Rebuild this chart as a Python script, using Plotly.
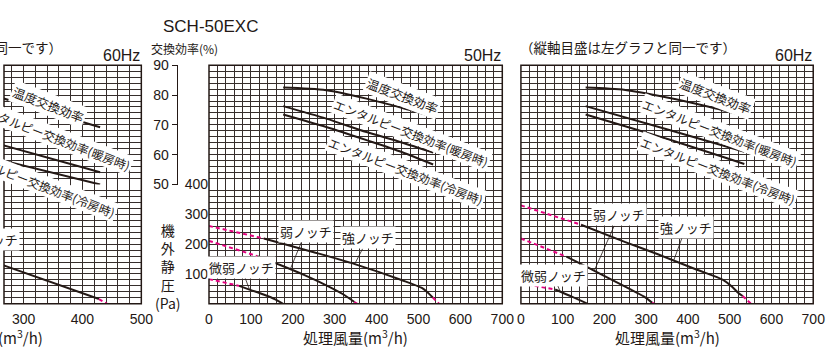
import plotly.graph_objects as go

W, H = 837, 349

# ---------------- data ----------------
# middle panel (SCH-50EXC, 50Hz)
m_temp_x = [177, 280, 376, 460, 535]
m_temp_y = [82.5, 81.6, 78.8, 75.7, 72.7]
m_heat_x = [177, 280, 376, 460, 535]
m_heat_y = [76.3, 72.1, 67.6, 64.1, 60.7]
m_cool_x = [177, 280, 376, 460, 535]
m_cool_y = [73.5, 69.3, 64.9, 60.9, 56.7]

m_strong_x = [131, 250, 348, 461, 508, 522, 534]
m_strong_y = [219, 173, 133, 79, 53, 38, 21]
m_strong_d0x = [0, 131]
m_strong_d0y = [261, 219]
m_strong_d1x = [534, 549]
m_strong_d1y = [21, 0]

m_weak_x = [115, 170, 228, 280, 320, 347]
m_weak_y = [160, 130, 96, 62, 32, 6]
m_weak_d0x = [0, 115]
m_weak_d0y = [211, 160]
m_weak_d1x = [347, 354]
m_weak_d1y = [6, 0]

m_micro_x = [72, 100, 130, 158, 177]
m_micro_y = [60, 46, 31, 15, 0]
m_micro_d0x = [0, 72]
m_micro_d0y = [83, 60]

# right panel (60Hz)
r_temp_x = [155, 250, 350, 450, 535]
r_temp_y = [82.5, 81.7, 79.2, 76.1, 73.1]
r_heat_x = [155, 345, 535]
r_heat_y = [76.3, 68.7, 61.0]
r_cool_x = [155, 345, 535]
r_cool_y = [73.5, 65.5, 56.9]

r_strong_x = [144, 250, 328, 420, 484, 505, 520, 531]
r_strong_y = [265, 207, 166, 115, 80, 58, 37, 26]
r_strong_d0x = [0, 144]
r_strong_d0y = [330, 265]
r_strong_d1x = [531, 551]
r_strong_d1y = [26, 0]

r_weak_x = [109, 160, 211, 260, 295, 314]
r_weak_y = [158, 122, 85, 50, 24, 4]
r_weak_d0x = [0, 109]
r_weak_d0y = [219, 158]
r_weak_d1x = [314, 320]
r_weak_d1y = [4, 0]

r_micro_x = [82, 122, 160]
r_micro_y = [48, 24, 0]
r_micro_d0x = [0, 82]
r_micro_d0y = [69, 48]

# left panel (partially visible, 60Hz)
l_temp_x = [250, 430]
l_temp_y = [79.8, 69.2]
l_heat_x = [250, 430]
l_heat_y = [64.0, 54.1]
l_cool_x = [250, 430]
l_cool_y = [58.8, 50.0]
l_strong_x = [250, 428]
l_strong_y = [140, 16]
l_strong_d1x = [428, 442]
l_strong_d1y = [16, 0]

# ticks
x_ticks_700 = list(range(0, 701, 20))
x_text_700 = [str(v) if v % 100 == 0 else "" for v in x_ticks_700]
x_ticks_500 = list(range(0, 501, 20))
x_text_500 = [str(v) if v % 100 == 0 else "" for v in x_ticks_500]
p_ticks = list(range(0, 401, 20))
p_text = [str(v) if (v % 100 == 0 and v > 0) else "" for v in p_ticks]
e_ticks = list(range(50, 91, 2))
e_label_ticks = [50, 60, 70, 80, 90]

# ---------------- style ----------------
INK = "#231815"
GRID = "#362e2c"
MAG = "#e4007f"
NUM_FONT = "Liberation Sans, Arial, sans-serif"
JP_FONT = "Noto Sans CJK JP, sans-serif"


def px(x):
    return x / W


def py(y):
    return 1 - y / H


y_bot, y_mid, y_top = py(310), py(185), py(60)

fig = go.Figure()


def line(xs, ys, xa, ya, dashed=False):
    fig.add_trace(go.Scatter(
        x=xs, y=ys, xaxis=xa, yaxis=ya, mode="lines",
        line=dict(color=MAG if dashed else INK, width=2,
                  dash="4px,3px" if dashed else "solid",
                  shape="linear" if dashed else "spline", smoothing=0.8),
        hoverinfo="skip", showlegend=False))


# left panel: x / y (pressure) / y2 (eff)
line(l_temp_x, l_temp_y, "x", "y2")
line(l_heat_x, l_heat_y, "x", "y2")
line(l_cool_x, l_cool_y, "x", "y2")
line(l_strong_x, l_strong_y, "x", "y")
line(l_strong_d1x, l_strong_d1y, "x", "y", True)

# middle panel: x2 / y3 / y4
line(m_temp_x, m_temp_y, "x2", "y4")
line(m_heat_x, m_heat_y, "x2", "y4")
line(m_cool_x, m_cool_y, "x2", "y4")
line(m_strong_x, m_strong_y, "x2", "y3")
line(m_strong_d0x, m_strong_d0y, "x2", "y3", True)
line(m_strong_d1x, m_strong_d1y, "x2", "y3", True)
line(m_weak_x, m_weak_y, "x2", "y3")
line(m_weak_d0x, m_weak_d0y, "x2", "y3", True)
line(m_weak_d1x, m_weak_d1y, "x2", "y3", True)
line(m_micro_x, m_micro_y, "x2", "y3")
line(m_micro_d0x, m_micro_d0y, "x2", "y3", True)

# right panel: x3 / y5 / y6
line(r_temp_x, r_temp_y, "x3", "y6")
line(r_heat_x, r_heat_y, "x3", "y6")
line(r_cool_x, r_cool_y, "x3", "y6")
line(r_strong_x, r_strong_y, "x3", "y5")
line(r_strong_d0x, r_strong_d0y, "x3", "y5", True)
line(r_strong_d1x, r_strong_d1y, "x3", "y5", True)
line(r_weak_x, r_weak_y, "x3", "y5")
line(r_weak_d0x, r_weak_d0y, "x3", "y5", True)
line(r_weak_d1x, r_weak_d1y, "x3", "y5", True)
line(r_micro_x, r_micro_y, "x3", "y5")
line(r_micro_d0x, r_micro_d0y, "x3", "y5", True)

# dummy trace for efficiency label axis
fig.add_trace(go.Scatter(x=[None], y=[None], xaxis="x2", yaxis="y7",
                         mode="lines", showlegend=False, hoverinfo="skip"))

common_x = dict(showgrid=True, gridcolor=GRID, gridwidth=1, zeroline=False,
                showline=False, ticks="", ticklabelstandoff=5,
                tickfont=dict(family=NUM_FONT, size=14, color=INK),
                tickmode="array", fixedrange=True)
common_y = dict(showgrid=True, gridcolor=GRID, gridwidth=1, zeroline=False,
                showline=False, ticks="", tickmode="array", fixedrange=True,
                tickfont=dict(family=NUM_FONT, size=14, color=INK))

fig.update_layout(
    width=W, height=H, autosize=False,
    margin=dict(l=0, r=0, t=0, b=0),
    paper_bgcolor="white", plot_bgcolor="white",
    xaxis=dict(common_x, domain=[0, px(140)], range=[500 - 140 / 0.6, 500],
               anchor="y", tickvals=x_ticks_500, ticktext=x_text_500),
    yaxis=dict(common_y, domain=[y_bot, y_mid], range=[0, 400], anchor="x",
               tickvals=p_ticks, showticklabels=False),
    yaxis2=dict(common_y, domain=[y_mid, y_top], range=[50, 90], anchor="x",
                tickvals=e_ticks, showticklabels=False),
    xaxis2=dict(common_x, domain=[px(209), px(508)], range=[0, 700],
                anchor="y3", tickvals=x_ticks_700, ticktext=x_text_700),
    yaxis3=dict(common_y, domain=[y_bot, y_mid], range=[0, 400], anchor="x2",
                tickvals=p_ticks, ticktext=p_text, showticklabels=True),
    yaxis4=dict(common_y, domain=[y_mid, y_top], range=[50, 90], anchor="x2",
                tickvals=e_ticks, showticklabels=False),
    xaxis3=dict(common_x, domain=[px(527), px(825)], range=[0, 700],
                anchor="y5", tickvals=x_ticks_700, ticktext=x_text_700),
    yaxis5=dict(common_y, domain=[y_bot, y_mid], range=[0, 400], anchor="x3",
                tickvals=p_ticks, showticklabels=False),
    yaxis6=dict(common_y, domain=[y_mid, y_top], range=[50, 90], anchor="x3",
                tickvals=e_ticks, showticklabels=False),
    yaxis7=dict(overlaying="y4", anchor="free", position=px(176),
                range=[50, 90], tickmode="array", tickvals=e_label_ticks,
                showgrid=False, zeroline=False, showline=True,
                linecolor=INK, linewidth=1.2, ticks="outside", ticklen=5,
                tickcolor=INK, tickwidth=1.2, fixedrange=True,
                tickfont=dict(family=NUM_FONT, size=14, color=INK)),
)

# panel frames
shapes = []
for xa in ("x", "x2", "x3"):
    shapes.append(dict(type="rect", xref=f"{xa} domain", yref="paper",
                       x0=0, x1=1, y0=y_bot, y1=y_top,
                       line=dict(color=INK, width=1.5), layer="above"))
fig.update_layout(shapes=shapes)

ann = []


def text(t, x, y, size, font=JP_FONT, xanchor="center", yanchor="middle", **kw):
    ann.append(dict(text=t, x=x, y=y, xref="paper", yref="paper",
                    xanchor=xanchor, yanchor=yanchor, showarrow=False,
                    font=dict(family=font, size=size, color=INK), **kw))


text("SCH-50EXC", px(211), py(19), 17, font=NUM_FONT)
text("交換効率(%)", px(184), py(42), 12)
text("50Hz", px(509), py(50), 16, font=NUM_FONT, xanchor="right")
text("60Hz", px(826), py(50), 16, font=NUM_FONT, xanchor="right")
text("60Hz", px(141), py(50), 16, font=NUM_FONT, xanchor="right")
text("（縦軸目盛は左グラフと同一です）", px(524), py(41), 13.5, xanchor="left")
text("（縦軸目盛は左グラフと同一です）", px(-163), py(41), 13.5, xanchor="left")
for cx in (-14, 358.5, 676):
    text("処理風量(m<sup>3</sup>/h)", px(cx), py(331), 15, yanchor="top")
text("機<br>外<br>静<br>圧<br>(Pa)", px(167), py(271), 14)


def eff_label(t, x, y, xa, ya, size=12):
    ann.append(dict(text=t, x=x, y=y, xref=xa, yref=ya, showarrow=False,
                    xanchor="center", yanchor="middle",
                    textangle=21, bgcolor="white", borderpad=1,
                    font=dict(family=JP_FONT, size=size, color=INK)))


eff_label("温度交換効率", 462, 79.8, "x2", "y4", 12.5)
eff_label("エンタルピー交換効率(暖房時)", 481, 67.3, "x2", "y4")
eff_label("エンタルピー交換効率(冷房時)", 469, 54.8, "x2", "y4")
eff_label("温度交換効率", 465, 79.8, "x3", "y6", 12.5)
eff_label("エンタルピー交換効率(暖房時)", 477, 67.6, "x3", "y6")
eff_label("エンタルピー交換効率(冷房時)", 472, 54.8, "x3", "y6")
eff_label("温度交換効率", 343, 76.9, "x", "y2", 12.5)
eff_label("エンタルピー交換効率(暖房時)", 350, 66.0, "x", "y2")
eff_label("エンタルピー交換効率(冷房時)", 325, 50.5, "x", "y2")


def notch(t, lx, ly, ex, ey, xa, ya):
    ann.append(dict(text=t, x=ex, y=ey, ax=lx, ay=ly, xref=xa, yref=ya,
                    axref=xa, ayref=ya, showarrow=True, arrowhead=0,
                    arrowwidth=0.8, arrowcolor=INK, standoff=0,
                    bgcolor="white", borderpad=1,
                    font=dict(family=JP_FONT, size=13, color=INK)))


notch("弱ノッチ", 231, 243, 194, 116, "x2", "y3")
notch("強ノッチ", 380, 221, 348, 134, "x2", "y3")
notch("微弱ノッチ", 77, 122, 96, 50, "x2", "y3")
notch("弱ノッチ", 235, 298, 176, 112, "x3", "y5")
notch("強ノッチ", 395, 256, 366, 146, "x3", "y5")
notch("微弱ノッチ", 78, 96, 94, 41, "x3", "y5")
ann.append(dict(text="強ノッチ", x=px(-12), y=py(243), xref="paper",
                yref="paper", xanchor="center", yanchor="middle",
                showarrow=False, bgcolor="white", borderpad=1,
                font=dict(family=JP_FONT, size=13, color=INK)))

fig.update_layout(annotations=ann)
fig.write_html("out.html")
